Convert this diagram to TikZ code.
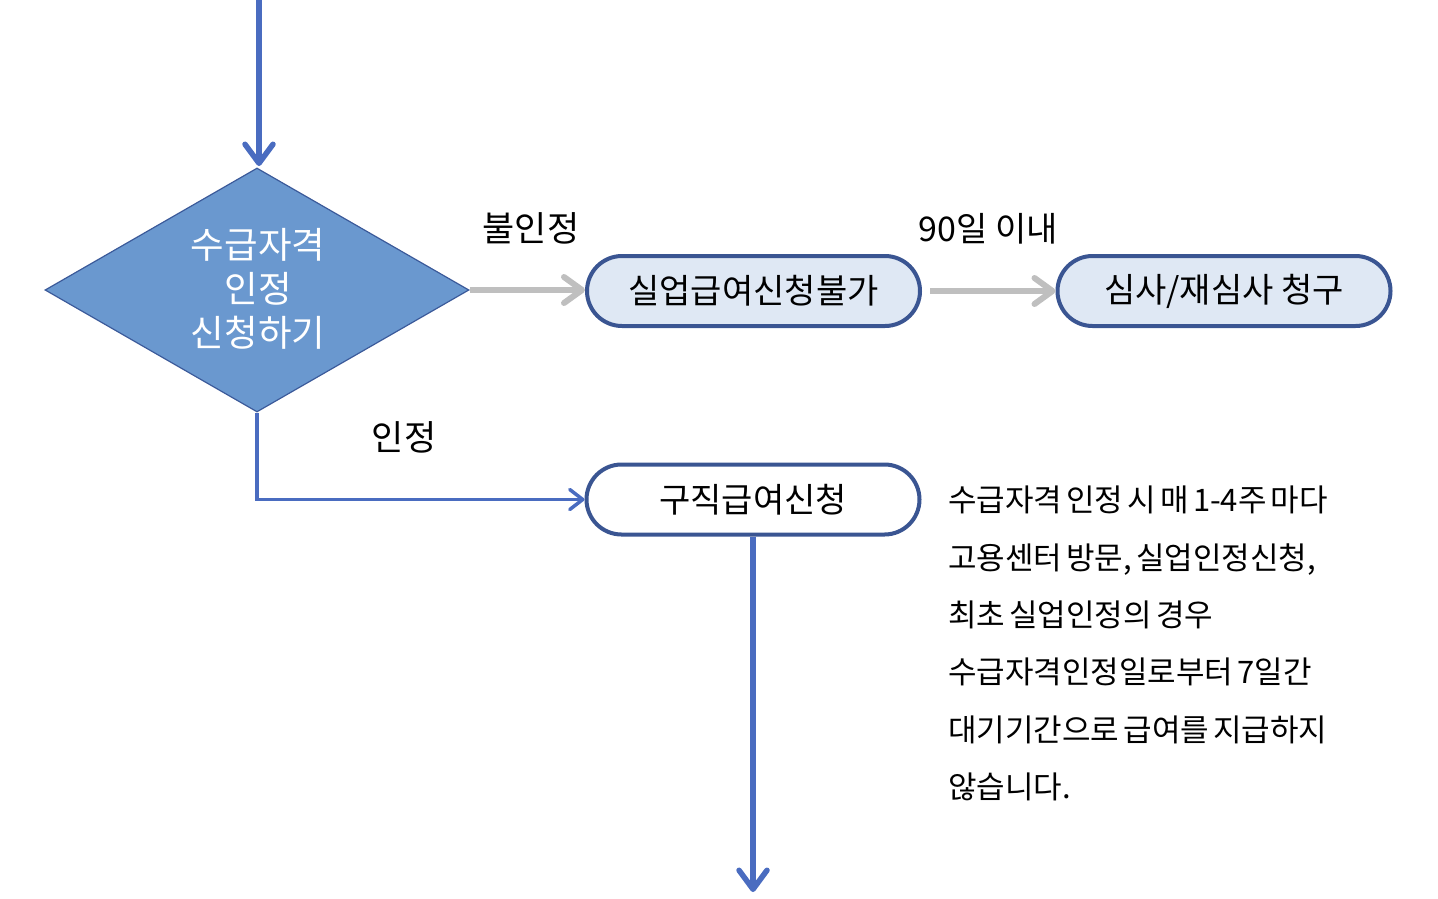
\documentclass[tikz,border=0pt]{standalone}
\usepackage{fontspec}
\setmainfont{Noto Sans CJK KR}
\newfontfamily\notefont[WordSpace=0.6]{Noto Sans CJK KR}
\usetikzlibrary{shapes.geometric,arrows.meta}
\definecolor{flowblue}{HTML}{4A6CC0}
\definecolor{diafill}{HTML}{6A98CF}
\definecolor{diaedge}{HTML}{3B5A9A}
\definecolor{boxedge}{HTML}{3A5592}
\definecolor{boxfill}{HTML}{DFE8F4}
\definecolor{arrowgray}{HTML}{BFBFBF}
\tikzset{
  pill/.style={draw=boxedge, line width=4pt, rounded corners=35pt, minimum width=333pt, minimum height=70pt, inner sep=0pt, font=\fontsize{34}{40}\selectfont},
  decision/.style={diamond, draw=diaedge, line width=1.2pt, fill=diafill, minimum width=424pt, minimum height=244pt, inner sep=0pt},
  lbl/.style={inner sep=0pt, font=\fontsize{35}{40}\selectfont},
  bluearrow/.style={draw=flowblue, line width=5.5pt, -{Straight Barb[length=19pt,width=28pt,line width=5.5pt,round]}},
  thinblue/.style={draw=flowblue, line width=3.5pt, -{Straight Barb[length=13pt,width=20pt,line width=3.5pt,round]}},
  grayarrow/.style={draw=arrowgray, line width=6pt, -{Straight Barb[length=18pt,width=26pt,line width=6pt,round]}}
}
\begin{document}
\begin{tikzpicture}[x=1pt,y=-1pt]
\useasboundingbox (0,0) rectangle (1438,898);
\node[decision] (dec) at (257,290) {};
\node[align=center, text=white, inner sep=0pt, font=\fontsize{36.5}{44}\selectfont] (dectext) at (258,289) {수급자격\\인정\\신청하기};
\node[pill, fill=boxfill] (fail) at (753.5,291) {실업급여신청불가};
\node[pill, fill=boxfill] (appeal) at (1224,291) {심사/재심사 청구};
\node[pill, fill=white] (apply) at (753,499.5) {구직급여신청};
\node[lbl] (notok) at (531,228) {불인정};
\node[lbl, font=\fontsize{34}{40}\selectfont] (ninety) at (988,229) {90일 이내};
\node[lbl] (ok) at (404,437) {인정};
\node[anchor=north west, align=left, inner sep=0pt, font=\notefont\fontsize{31}{57.3}\selectfont] (note) at (948,486)
  {수급자격 인정 시 매 1-4주 마다\\고용센터 방문, 실업인정신청,\\최초 실업인정의 경우\\수급자격인정일로부터 7일간\\대기기간으로 급여를 지급하지\\않습니다.};
\coordinate (topin) at (259,0);
\coordinate (topend) at (259,166);
\coordinate (botout) at (753,892);
\draw[bluearrow] (topin) -- (topend);
\draw[grayarrow] (dec.east) -- (dec.east -| fail.west);
\draw[grayarrow] ([xshift=8pt]fail.east) -- (appeal.west);
\draw[thinblue] (dec.south) |- (apply.west);
\draw[bluearrow] (apply.south) -- (botout);
\end{tikzpicture}
\end{document}
